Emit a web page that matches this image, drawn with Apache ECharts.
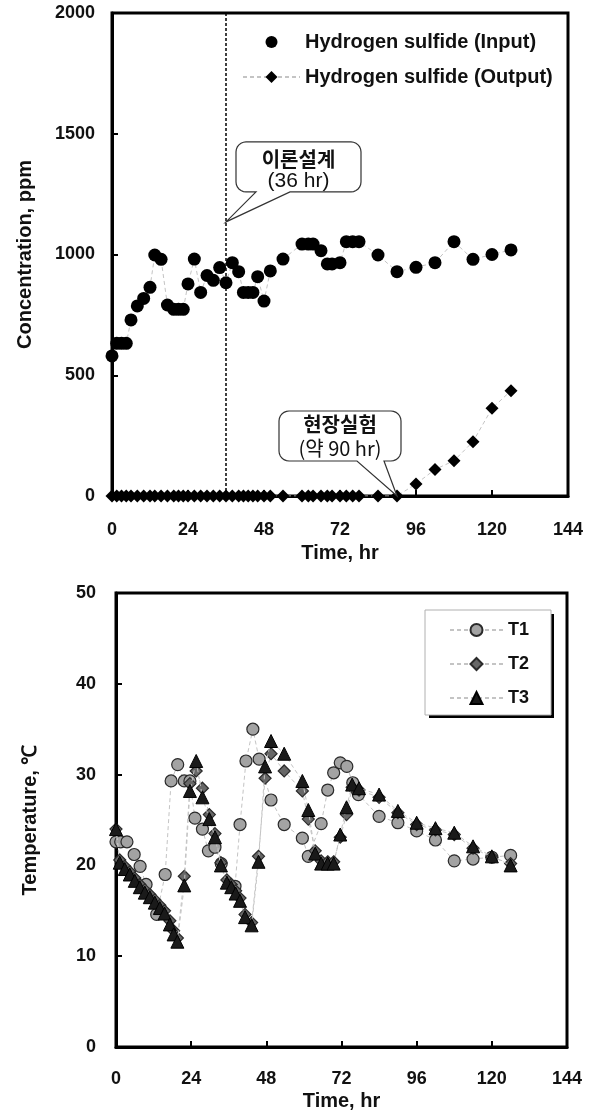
<!DOCTYPE html>
<html>
<head>
<meta charset="utf-8">
<script src="https://cdn.jsdelivr.net/npm/echarts@6/dist/echarts.min.js"></script>
<style>
html,body{margin:0;padding:0;background:#fff;}
#c{width:595px;height:1113px;}
</style>
</head>
<body>
<div id="c"></div>
<script>
// ---------- Top chart: hydrogen sulfide ----------
const h2sTime = [0, 1.5, 3, 4.5, 6, 8, 10, 12, 13.5, 15.5, 17.5, 19.5, 21, 22.5, 24, 26, 28, 30, 32, 34,
  36, 38, 40, 41.5, 43, 44.5, 46, 48, 50, 54, 60, 62, 63.5, 66, 68, 69.5, 72, 74, 76, 78,
  84, 90, 96, 102, 108, 114, 120, 126];
const h2sInput = [580, 632, 632, 632, 729, 787, 818, 864, 998, 980, 791, 773, 773, 773, 878, 981, 843, 913, 893, 946,
  883, 966, 929, 843, 843, 843, 908, 807, 932, 981, 1043, 1043, 1043, 1016, 961, 961, 966, 1053, 1053, 1053,
  998, 929, 947, 966, 1053, 980, 1000, 1019];
const h2sOutput = [0, 0, 0, 0, 0, 0, 0, 0, 0, 0, 0, 0, 0, 0, 0, 0, 0, 0, 0, 0,
  0, 0, 0, 0, 0, 0, 0, 0, 0, 0, 0, 0, 0, 0, 0, 0, 0, 0, 0, 0,
  0, 0, 50, 110, 146, 225, 363, 436];
const h2sNames = ['Hydrogen sulfide (Input)', 'Hydrogen sulfide (Output)'];
const designTime = 36;            // 이론설계 (36 hr)
const designAnchor = [36, 1135];
const fieldAnchor = [90, 0];      // 현장실험 (약 90 hr)
const concTicks = [0, 500, 1000, 1500, 2000];
const timeTicks = [0, 24, 48, 72, 96, 120, 144];

// ---------- Bottom chart: temperatures ----------
const t1Time = [0, 1.5, 3.5, 5.8, 7.7, 9.6, 13, 15.7, 17.6, 19.7, 21.8, 23.6, 25.2, 27.6, 29.5, 31.6, 33.6, 38, 39.6, 41.5,
  43.7, 45.7, 49.5, 53.7, 59.5, 61.4, 65.5, 67.6, 69.5, 71.6, 73.7, 75.6, 77.4, 84, 90, 96, 102, 108, 114, 120, 126];
const t1Temp = [22.6, 22.6, 22.6, 21.2, 19.9, 17.9, 14.6, 19.0, 29.3, 31.1, 29.3, 29.3, 25.2, 24.0, 21.6, 22.0, 20.2, 17.7, 24.5, 31.5,
  35.0, 31.7, 27.2, 24.5, 23.0, 21.0, 24.6, 28.3, 30.2, 31.3, 30.9, 29.1, 27.8, 25.4, 24.7, 23.8, 22.8, 20.5, 20.7, 20.9, 21.1];
const t23Time = [0, 1.2, 2.8, 4.4, 6, 7.6, 9.2, 10.8, 12.4, 14, 15.5, 17.2, 18.4, 19.6, 21.8, 23.6, 25.6, 27.6, 29.8, 31.6,
  33.5, 35.4, 36.8, 38.2, 39.6, 41.2, 43.3, 45.5, 47.6, 49.5, 53.7, 59.5, 61.4, 63.6, 65.5, 67.6, 69.5, 71.6, 73.6, 75.4,
  77.6, 84, 90, 96, 102, 108, 114, 120, 126];
const t2Temp = [24.0, 20.6, 19.9, 19.3, 18.6, 17.9, 17.3, 16.8, 16.2, 15.6, 15.0, 13.9, 12.8, 12.0, 18.8, 29.0, 30.4, 28.5, 25.6, 23.5,
  20.3, 18.4, 17.9, 17.2, 16.4, 14.6, 13.7, 21.0, 29.6, 32.3, 30.4, 28.2, 25.1, 21.6, 20.5, 20.4, 20.4, 23.1, 25.6, 28.6,
  28.3, 27.5, 25.8, 24.5, 23.9, 23.4, 21.9, 20.9, 20.2];
const t3Temp = [24.0, 20.3, 19.6, 19.0, 18.3, 17.6, 17.0, 16.5, 15.9, 15.3, 14.7, 13.5, 12.4, 11.6, 17.8, 28.2, 31.5, 27.5, 25.1, 23.1,
  20.0, 18.1, 17.6, 16.9, 16.1, 14.3, 13.4, 20.4, 30.9, 33.7, 32.3, 29.3, 26.1, 21.3, 20.2, 20.2, 20.2, 23.4, 26.4, 28.9,
  28.5, 27.8, 26.0, 24.7, 24.1, 23.6, 22.1, 21.0, 20.0];
const tempNames = ['T1', 'T2', 'T3'];
const tempTicks = [0, 10, 20, 30, 40, 50];

// ---------- styling ----------
const LATIN = '"Liberation Sans", Arial, Helvetica, sans-serif';
const KR = '"Noto Sans CJK KR", "Noto Sans", sans-serif';
const pairs = (xs, ys) => xs.map((x, i) => [x, ys[i]]);
const connector = { color: '#c4c4c4', width: 1, type: [4, 3] };

function label(margin) {
  return { color: '#111', fontFamily: LATIN, fontWeight: 'bold', fontSize: 18, margin: margin,
    formatter: v => String(v) };
}
function valueAxis(extra) {
  return Object.assign({
    type: 'value',
    splitLine: { show: false },
    axisLine: { show: true, onZero: false, lineStyle: { color: '#000', width: 3 } },
    axisTick: { show: true, inside: true, length: 6, lineStyle: { color: '#000', width: 2 } },
    nameLocation: 'middle',
    nameTextStyle: { color: '#111', fontFamily: LATIN, fontWeight: 'bold', fontSize: 20 }
  }, extra);
}

const legendText = { color: '#111', fontFamily: LATIN, fontWeight: 'bold', fontSize: 20 };
const legendText2 = { color: '#111', fontFamily: LATIN, fontWeight: 'bold', fontSize: 18 };

const chart = echarts.init(document.getElementById('c'), null, { renderer: 'canvas' });

const option = {
  animation: false,
  backgroundColor: '#fff',
  grid: [
    { left: 112, top: 13, width: 456, height: 483, show: true, borderColor: '#000', borderWidth: 3, containLabel: false },
    { left: 116, top: 593, width: 451, height: 454, show: true, borderColor: '#000', borderWidth: 3, containLabel: false }
  ],
  xAxis: [
    valueAxis({ gridIndex: 0, min: timeTicks[0], max: timeTicks[timeTicks.length - 1], interval: 24,
      name: 'Time, hr', nameGap: 47, axisLabel: label(25) }),
    valueAxis({ gridIndex: 1, min: timeTicks[0], max: timeTicks[timeTicks.length - 1], interval: 24,
      name: 'Time, hr', nameGap: 44, axisLabel: label(23) })
  ],
  yAxis: [
    valueAxis({ gridIndex: 0, min: concTicks[0], max: concTicks[concTicks.length - 1], interval: 500,
      name: 'Concentration, ppm', nameGap: 77, axisLabel: label(17) }),
    valueAxis({ gridIndex: 1, min: tempTicks[0], max: tempTicks[tempTicks.length - 1], interval: 10,
      name: 'Temperature, ℃', nameGap: 76, axisLabel: label(20) })
  ],
  legend: [
    { data: [{ name: h2sNames[0], lineStyle: { opacity: 0 } }], left: 237, top: 27, itemWidth: 57, itemHeight: 15,
      selectedMode: false, textStyle: legendText, itemGap: 0 },
    { data: [h2sNames[1]], left: 237, top: 62, itemWidth: 57, itemHeight: 15,
      selectedMode: false, textStyle: legendText, itemGap: 0 },
    { data: [tempNames[0]], left: 444, top: 616, itemWidth: 53, itemHeight: 15, selectedMode: false, textStyle: legendText2, z: 10 },
    { data: [tempNames[1]], left: 444, top: 650, itemWidth: 53, itemHeight: 15, selectedMode: false, textStyle: legendText2, z: 10 },
    { data: [tempNames[2]], left: 444, top: 684, itemWidth: 53, itemHeight: 15, selectedMode: false, textStyle: legendText2, z: 10 }
  ],
  series: [
    { name: h2sNames[0], type: 'line', xAxisIndex: 0, yAxisIndex: 0,
      data: pairs(h2sTime, h2sInput), symbol: 'circle', symbolSize: 13, showAllSymbol: true,
      itemStyle: { color: '#000' }, lineStyle: connector, z: 3,
      markLine: { silent: true, symbol: ['none', 'none'], label: { show: false },
        lineStyle: { color: '#000', width: 1.5, type: [3, 2] }, data: [{ xAxis: designTime }] } },
    { name: h2sNames[1], type: 'line', xAxisIndex: 0, yAxisIndex: 0,
      data: pairs(h2sTime, h2sOutput), symbol: 'diamond', symbolSize: 13, showAllSymbol: true,
      itemStyle: { color: '#000' }, lineStyle: connector, z: 4 },
    { name: tempNames[0], type: 'line', xAxisIndex: 1, yAxisIndex: 1,
      data: pairs(t1Time, t1Temp), symbol: 'circle', symbolSize: 12, showAllSymbol: true,
      itemStyle: { color: '#a3a3a3', borderColor: '#2a2a2a', borderWidth: 1.2 }, lineStyle: connector, z: 3 },
    { name: tempNames[1], type: 'line', xAxisIndex: 1, yAxisIndex: 1,
      data: pairs(t23Time, t2Temp), symbol: 'diamond', symbolSize: 12, showAllSymbol: true,
      itemStyle: { color: '#676767', borderColor: '#2a2a2a', borderWidth: 1.2 }, lineStyle: connector, z: 4 },
    { name: tempNames[2], type: 'line', xAxisIndex: 1, yAxisIndex: 1,
      data: pairs(t23Time, t3Temp), symbol: 'triangle', symbolSize: 13, showAllSymbol: true,
      itemStyle: { color: '#1a1a1a', borderColor: '#000', borderWidth: 1 }, lineStyle: connector, z: 5 }
  ]
};
chart.setOption(option);

// ---------- annotations (callouts + legend frame) ----------
function roundedCallout(x0, y0, x1, y1, r, bL, bR, tx, ty) {
  const pts = [];
  const arc = (cx, cy, a0, a1) => {
    for (let k = 0; k <= 6; k++) {
      const a = a0 + (a1 - a0) * k / 6;
      pts.push([cx + r * Math.cos(a), cy + r * Math.sin(a)]);
    }
  };
  arc(x0 + r, y0 + r, Math.PI, 1.5 * Math.PI);
  arc(x1 - r, y0 + r, 1.5 * Math.PI, 2 * Math.PI);
  arc(x1 - r, y1 - r, 0, 0.5 * Math.PI);
  pts.push([bR, y1], [tx, ty], [bL, y1]);
  arc(x0 + r, y1 - r, 0.5 * Math.PI, Math.PI);
  return pts;
}

const p1 = chart.convertToPixel({ gridIndex: 0 }, designAnchor);
const p2 = chart.convertToPixel({ gridIndex: 0 }, fieldAnchor);

const c1 = { x0: p1[0] + 10, x1: p1[0] + 135, y0: p1[1] - 80, y1: p1[1] - 30 };
const c2 = { x0: p2[0] - 118, x1: p2[0] + 4, y0: p2[1] - 85, y1: p2[1] - 35 };

function txt(str, x, y, font) {
  return { type: 'text', x: x, y: y, z: 101,
    style: { text: str, fill: '#111', font: font, align: 'center', verticalAlign: 'middle',
      textAlign: 'center', textVerticalAlign: 'middle' } };
}

chart.setOption({
  graphic: [
    { type: 'rect', z: 1, shape: { x: 429, y: 614, width: 125, height: 104 }, style: { fill: '#000' } },
    { type: 'rect', z: 2, shape: { x: 425, y: 610, width: 126, height: 105 }, style: { fill: '#fff', stroke: '#b0b0b0', lineWidth: 1 } },
    { type: 'polygon', z: 100,
      shape: { points: roundedCallout(c1.x0, c1.y0, c1.x1, c1.y1, 10, p1[0] + 30, p1[0] + 64, p1[0], p1[1]) },
      style: { fill: '#fff', stroke: '#333', lineWidth: 1.2 } },
    txt('이론설계', (c1.x0 + c1.x1) / 2, c1.y0 + 18, 'bold 20px ' + KR),
    txt('(36 hr)', (c1.x0 + c1.x1) / 2, c1.y0 + 39, '21px ' + LATIN),
    { type: 'polygon', z: 100,
      shape: { points: roundedCallout(c2.x0, c2.y0, c2.x1, c2.y1, 10, p2[0] - 40, p2[0] - 13, p2[0], p2[1]) },
      style: { fill: '#fff', stroke: '#333', lineWidth: 1.2 } },
    txt('현장실험', (c2.x0 + c2.x1) / 2, c2.y0 + 13, 'bold 20px ' + KR),
    txt('(약 90 hr)', (c2.x0 + c2.x1) / 2, c2.y0 + 37, '20px ' + KR)
  ]
});
</script>
</body>
</html>
